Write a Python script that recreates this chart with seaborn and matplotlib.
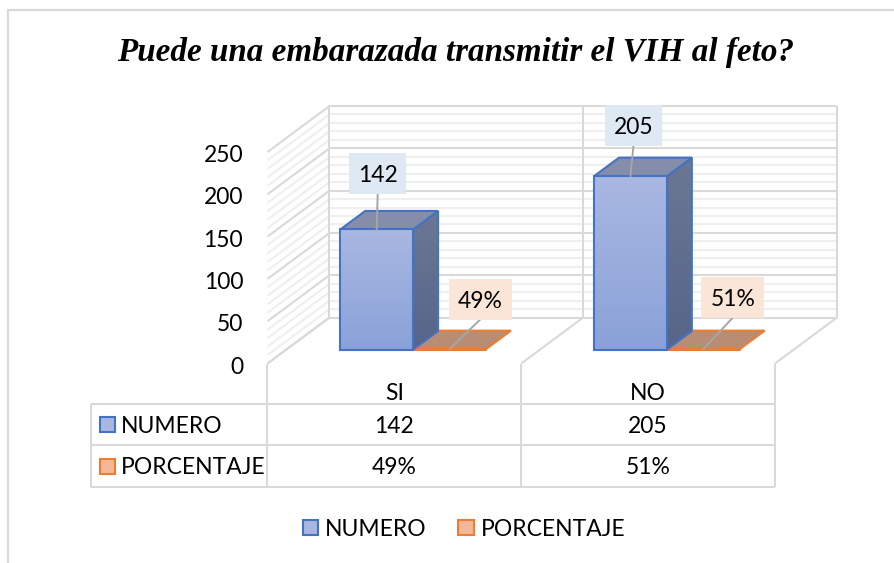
import numpy as np
import pandas as pd
import seaborn as sns
import matplotlib
matplotlib.use("Agg")
import matplotlib.pyplot as plt
from matplotlib.lines import Line2D
from matplotlib.patches import Patch, Polygon, Rectangle
from matplotlib.transforms import Affine2D, IdentityTransform

# ---------- data ----------
TITLE = "Puede una embarazada transmitir el VIH al feto?"
CATEGORIES = ["SI", "NO"]
SERIES = ["NUMERO", "PORCENTAJE"]
NUMERO = [142, 205]
PORCENTAJE = [0.49, 0.51]
NUMERO_LABELS = ["142", "205"]
PORCENTAJE_LABELS = ["49%", "51%"]
Y_TICKS = [0, 50, 100, 150, 200, 250]
MINOR_STEP = 10

# ---------- layout (pixels, y from top) ----------
W, H = 895, 563
PLANE_L, PLANE_R, PLANE_0, PLANE_250 = 267.5, 775.0, 363.5, 152.0
DEPTH = (62.0, 46.0)
BAR_T0, BAR_T1 = 0.302, 0.705
LABEL_OFFSETS = [[(1, 56), (3, 51)], [(30.5, 50), (29.5, 52)]]
LABEL_BOX = [(57, 41), (63, 41)]
TBL_L, TBL_T, TBL_M, TBL_B = 90.5, 403.5, 445.0, 486.5

BLUE_EDGE, ORANGE_EDGE = "#4472C4", "#ED7D31"
GRID_MAJOR, GRID_MINOR = "#D9D9D9", "#EFEFEF"
FONT = "Lato"
FS = 16.5

sns.set_theme(style="white", rc={"font.family": FONT})
fig = plt.figure(figsize=(W / 100, H / 100), dpi=100)
ax = fig.add_axes([PLANE_L / W, 1 - PLANE_0 / H,
                   (PLANE_R - PLANE_L) / W, (PLANE_0 - PLANE_250) / H])

df = pd.DataFrame({
    "cat": CATEGORIES * 2,
    "serie": [SERIES[0]] * 2 + [SERIES[1]] * 2,
    "valor": NUMERO + PORCENTAJE,
})
sns.barplot(data=df, x="cat", y="valor", hue="serie", hue_order=SERIES,
            palette=["#9DB0DF", "#B98C74"], width=0.574, gap=0, dodge=True,
            legend=False, ax=ax, zorder=5, saturation=1)
ax.set_xlim(-0.5, 1.5)
ax.set_ylim(0, 250)
ax.set_yticks(Y_TICKS)
ax.set_xlabel("")
ax.set_ylabel("")
ax.set_xticks(range(len(CATEGORIES)))
ax.set_xticklabels(CATEGORIES, fontsize=FS, color="black")
ax.set_yticklabels([str(v) for v in Y_TICKS], fontsize=FS, color="black", va="center_baseline")
ax.tick_params(axis="y", length=0, pad=17.5)
ax.tick_params(axis="x", length=0, pad=14)
for lab in ax.get_yticklabels():
    lab.set_transform(lab.get_transform() + Affine2D().translate(0, -1.5))
ax.patch.set_alpha(0)
sns.despine(ax=ax, left=True, bottom=True)

ID = IdentityTransform()
fig.canvas.draw()


def proj(c, v, t):
    """category coord, value and depth (0 front .. 1 back) -> display"""
    p = ax.transData.transform((c, v))
    return (p[0] + DEPTH[0] * t, p[1] + DEPTH[1] * t)


def seg(a, b, color=GRID_MAJOR, lw=1.5, z=1):
    ax.add_line(Line2D([a[0], b[0]], [a[1], b[1]], transform=ID, color=color,
                       lw=lw, zorder=z, solid_capstyle="butt", clip_on=False))


def add_poly(pts, **kw):
    p = Polygon(pts, closed=True, transform=ID, clip_on=False, **kw)
    ax.add_patch(p)
    return p


def gradient_poly(pts, top, bottom, z, edge=None, lw=1.5):
    cmap = matplotlib.colors.LinearSegmentedColormap.from_list("g", [bottom, top])
    xs, ys = zip(*pts)
    add_poly(pts, facecolor="none", edgecolor=edge or "none", lw=lw, zorder=z + 0.1,
             joinstyle="miter")
    im = ax.imshow(np.linspace(1, 0, 64).reshape(-1, 1), cmap=cmap, aspect="auto",
                   extent=(min(xs), max(xs), min(ys), max(ys)), transform=ID,
                   zorder=z, interpolation="bilinear")
    im.set_clip_path(Polygon(pts, closed=True, transform=ID))


# ---------- walls ----------
values = np.arange(0, Y_TICKS[-1] + MINOR_STEP, MINOR_STEP)
for v in values:
    if v in Y_TICKS:
        continue
    seg(proj(-0.5, v, 1), proj(1.5, v, 1), GRID_MINOR, z=1)
    seg(proj(-0.5, v, 0), proj(-0.5, v, 1), GRID_MINOR, z=1)
for v in Y_TICKS:
    seg(proj(-0.5, v, 1), proj(1.5, v, 1), z=2)
    seg(proj(-0.5, v, 0), proj(-0.5, v, 1), z=2)
for c in (-0.5, 0.5, 1.5):
    seg(proj(c, 0, 1), proj(c, Y_TICKS[-1], 1), z=2)
    seg(proj(c, 0, 0), proj(c, 0, 1), z=2)
    p0 = proj(c, 0, 0)
    seg(p0, (p0[0], H - TBL_B), z=2)

# ---------- data table ----------
tbl_right = proj(1.5, 0, 0)[0]
for yy in (TBL_T, TBL_M, TBL_B):
    seg((TBL_L, H - yy), (tbl_right, H - yy), z=2)
seg((TBL_L, H - TBL_T), (TBL_L, H - TBL_B), z=2)

rows = [(NUMERO_LABELS, (TBL_T + TBL_M) / 2, "#A9B7E0", BLUE_EDGE, SERIES[0]),
        (PORCENTAJE_LABELS, (TBL_M + TBL_B) / 2, "#F4B79A", ORANGE_EDGE, SERIES[1])]
for labels, yc, fc, ec, name in rows:
    fig.add_artist(Rectangle((99.5, H - yc - 8), 15, 15, transform=ID, fc=fc, ec=ec, lw=1.5))
    fig.text(121, H - yc, name, transform=ID, fontsize=FS, family=FONT, color="black",
             ha="left", va="center_baseline")
    for i, lab in enumerate(labels):
        fig.text(proj(i, 0, 0)[0], H - yc, lab, transform=ID, fontsize=FS, family=FONT,
                 color="black", ha="center", va="center_baseline")

# ---------- bars in 3D ----------
top_cols = ["#848DAA", "#B98C74"]
for s, (cont, edge) in enumerate(zip(ax.containers, (BLUE_EDGE, ORANGE_EDGE))):
    for i, bar in enumerate(cont):
        x0, x1 = bar.get_x(), bar.get_x() + bar.get_width()
        v = bar.get_height()
        zz = 6 + i * 2 + (1 - s)
        a, b, c, d = proj(x0, 0, BAR_T0), proj(x1, 0, BAR_T0), proj(x1, v, BAR_T0), proj(x0, v, BAR_T0)
        bb, cb, db = proj(x1, 0, BAR_T1), proj(x1, v, BAR_T1), proj(x0, v, BAR_T1)
        bar.set_visible(False)
        if s == 0:
            gradient_poly([b, bb, cb, c], "#6B7794", "#566589", zz, edge)
            gradient_poly([a, b, c, d], "#A9B7E1", "#8AA2D9", zz + 0.3, edge)
        add_poly([d, c, cb, db], facecolor=top_cols[s], edgecolor=edge, lw=1.5, zorder=zz + 0.2,
                 joinstyle="miter")
        if s == 1:
            ax.add_line(Line2D([a[0], b[0]], [a[1], b[1]], transform=ID, color=edge, lw=1.5,
                               zorder=zz + 0.3, clip_on=False))

        # data label with leader line
        anchor_x = (d[0] + c[0]) / 2
        anchor_y = d[1]
        dx, dy = LABEL_OFFSETS[s][i]
        cx, cy = anchor_x + dx, anchor_y + dy
        bw, bh = LABEL_BOX[s]
        box_col = "#DEE9F4" if s == 0 else "#FBE5D6"
        txt = (NUMERO_LABELS if s == 0 else PORCENTAJE_LABELS)[i]
        ax.add_line(Line2D([anchor_x, cx], [anchor_y, cy - bh / 2], transform=ID, color="#A6A6A6",
                           lw=1.4, zorder=20, clip_on=False))
        ax.add_patch(Rectangle((cx - bw / 2, cy - bh / 2), bw, bh, transform=ID, fc=box_col, ec="none",
                               zorder=21, clip_on=False))
        ax.text(cx, cy, txt, transform=ID, fontsize=FS, color="black", ha="center",
                va="center_baseline", zorder=22, clip_on=False)

ax.set_xlim(-0.5, 1.5)
ax.set_ylim(0, 250)

# ---------- title, legend, frame ----------
fig.text(455.5 / W, 1 - 52 / H, TITLE, family="Liberation Serif", style="italic", weight="bold",
         fontsize=23.9, color="black", ha="center", va="center")

handles = [Patch(facecolor="#A9B7E0", edgecolor=BLUE_EDGE, lw=1.5),
           Patch(facecolor="#F4B79A", edgecolor=ORANGE_EDGE, lw=1.5)]
fig.legend(handles, SERIES, loc="center", bbox_to_anchor=(464 / W, 1 - 529 / H), ncol=2,
           frameon=False, fontsize=FS, handlelength=0.68, handleheight=0.68,
           handletextpad=0.3, columnspacing=1.37, labelcolor="black")

fig.add_artist(Line2D([8, 8, W], [0, H - 10, H - 10], transform=ID, color=GRID_MAJOR, lw=1.6,
                      solid_joinstyle="miter"))

fig.savefig("out.png", dpi=100)
